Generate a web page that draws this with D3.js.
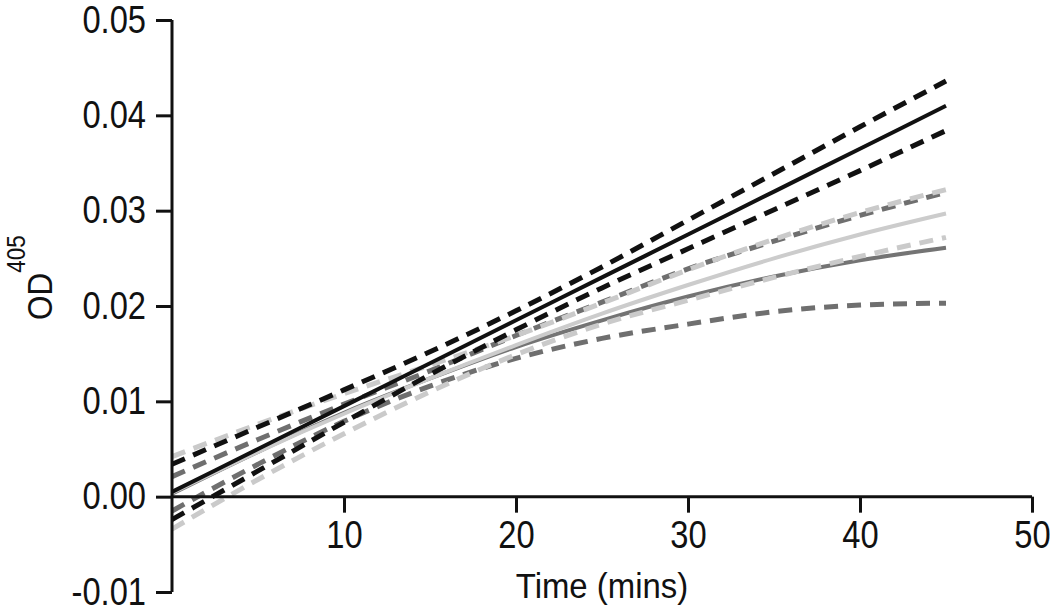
<!DOCTYPE html>
<html>
<head>
<meta charset="utf-8">
<script src="https://cdn.jsdelivr.net/npm/d3@7"></script>
<style>
  body { margin: 0; background: #fff; }
  svg text { font-family: 'Liberation Sans', Arial, sans-serif; fill: #111; }
</style>
</head>
<body>
<svg id="chart" width="1050" height="612"></svg>
<script>
// time points (mins)
const times = [0, 5, 10, 15, 20, 25, 30, 35, 40, 45];

// black series: fit and bands
const blackFit   = [0.0005, 0.0050, 0.0095, 0.0140, 0.0185, 0.0230, 0.0275, 0.0320, 0.0365, 0.0410];
const blackUpper = [0.0034, 0.0073, 0.0112, 0.0152, 0.0195, 0.0241, 0.0290, 0.0339, 0.0388, 0.0436];
const blackLower = [-0.0024, 0.0027, 0.0078, 0.0128, 0.0175, 0.0219, 0.0260, 0.0301, 0.0342, 0.0384];

// light grey series
const lightFit   = [0.0004, 0.0047, 0.0087, 0.0124, 0.0159, 0.0192, 0.0222, 0.0250, 0.0275, 0.0297];
const lightUpper = [0.0042, 0.0076, 0.0108, 0.0138, 0.0169, 0.0203, 0.0238, 0.0270, 0.0298, 0.0322];
const lightLower = [-0.0034, 0.0018, 0.0066, 0.0110, 0.0149, 0.0181, 0.0206, 0.0230, 0.0252, 0.0272];

// dark grey series
const darkFit   = [0.0003, 0.0047, 0.0088, 0.0124, 0.0157, 0.0185, 0.0210, 0.0231, 0.0248, 0.0261];
const darkUpper = [0.0021, 0.0060, 0.0097, 0.0132, 0.0169, 0.0204, 0.0239, 0.0268, 0.0295, 0.0319];
const darkLower = [-0.0015, 0.0034, 0.0079, 0.0116, 0.0145, 0.0166, 0.0181, 0.0194, 0.0201, 0.0203];

const xTicks = [10, 20, 30, 40, 50];
const yTicks = [-0.01, 0.00, 0.01, 0.02, 0.03, 0.04, 0.05];

const svg = d3.select('#chart');

const x = d3.scaleLinear().domain([0, 50]).range([172, 1032]);
const y = d3.scaleLinear().domain([-0.01, 0.05]).range([592, 20]);

const line = d3.line()
    .x((d, i) => x(times[i]))
    .y(d => y(d))
    .curve(d3.curveMonotoneX);

// narrow the glyphs a bit (no condensed font installed)
function squeeze(sel, k) {
    sel.each(function () {
        const len = this.getComputedTextLength();
        d3.select(this).attr('textLength', len * k).attr('lengthAdjust', 'spacingAndGlyphs');
    });
}

// draw order: dark grey, light grey, black
const series = [
    { data: darkLower,  color: '#6f6f6f', dash: true },
    { data: darkUpper,  color: '#6f6f6f', dash: true },
    { data: darkFit,    color: '#747474', dash: false },
    { data: lightLower, color: '#cacaca', dash: true },
    { data: lightUpper, color: '#cacaca', dash: true },
    { data: lightFit,   color: '#cccccc', dash: false },
    { data: blackLower, color: '#111', dash: true },
    { data: blackUpper, color: '#111', dash: true },
    { data: blackFit,   color: '#111', dash: false }
];

svg.append('g').selectAll('path')
    .data(series)
    .enter()
    .append('path')
    .attr('d', d => line(d.data))
    .attr('fill', 'none')
    .attr('stroke', d => d.color)
    .attr('stroke-width', d => d.dash ? 5 : 4)
    .attr('stroke-dasharray', d => d.dash ? '14,9' : null);

// y axis
const yFmt = d => d3.format('.2f')(d).replace('−', '-');
const yAxis = svg.append('g')
    .attr('transform', `translate(${x(0)},0)`)
    .call(d3.axisLeft(y).tickValues(yTicks).tickFormat(yFmt).tickSize(16).tickPadding(10));

// x axis at zero
const xAxis = svg.append('g')
    .attr('transform', `translate(0,${y(0)})`)
    .call(d3.axisBottom(x).tickValues(xTicks).tickSize(16).tickPadding(8));

[yAxis, xAxis].forEach(g => {
    g.select('.domain').attr('stroke', '#111').attr('stroke-width', 3);
    g.selectAll('.tick line').attr('stroke', '#111').attr('stroke-width', 3);
    g.selectAll('.tick text').attr('font-size', 38).attr('fill', '#111')
        .style('font-family', "'Liberation Sans', Arial, sans-serif")
        .call(squeeze, 0.86);
});
// replace the outer-tick-shaped domain paths with plain lines
yAxis.select('.domain').attr('d', `M0,${y(0.05)}V${y(-0.01)}`);
xAxis.select('.domain').attr('d', `M0,0H${x(50) - x(0)}`).attr('transform', `translate(${x(0)},0)`);

// axis titles
svg.append('text')
    .attr('x', 602)
    .attr('y', 598)
    .attr('text-anchor', 'middle')
    .attr('font-size', 35)
    .text('Time (mins)')
    .call(squeeze, 0.94);

const yTitle = svg.append('text')
    .attr('transform', 'translate(52,320) rotate(-90)')
    .attr('font-size', 35);
yTitle.append('tspan').text('OD').call(squeeze, 0.9);
yTitle.append('tspan').attr('font-size', 25).attr('dy', -27).text('405').call(squeeze, 0.9);
</script>
</body>
</html>
